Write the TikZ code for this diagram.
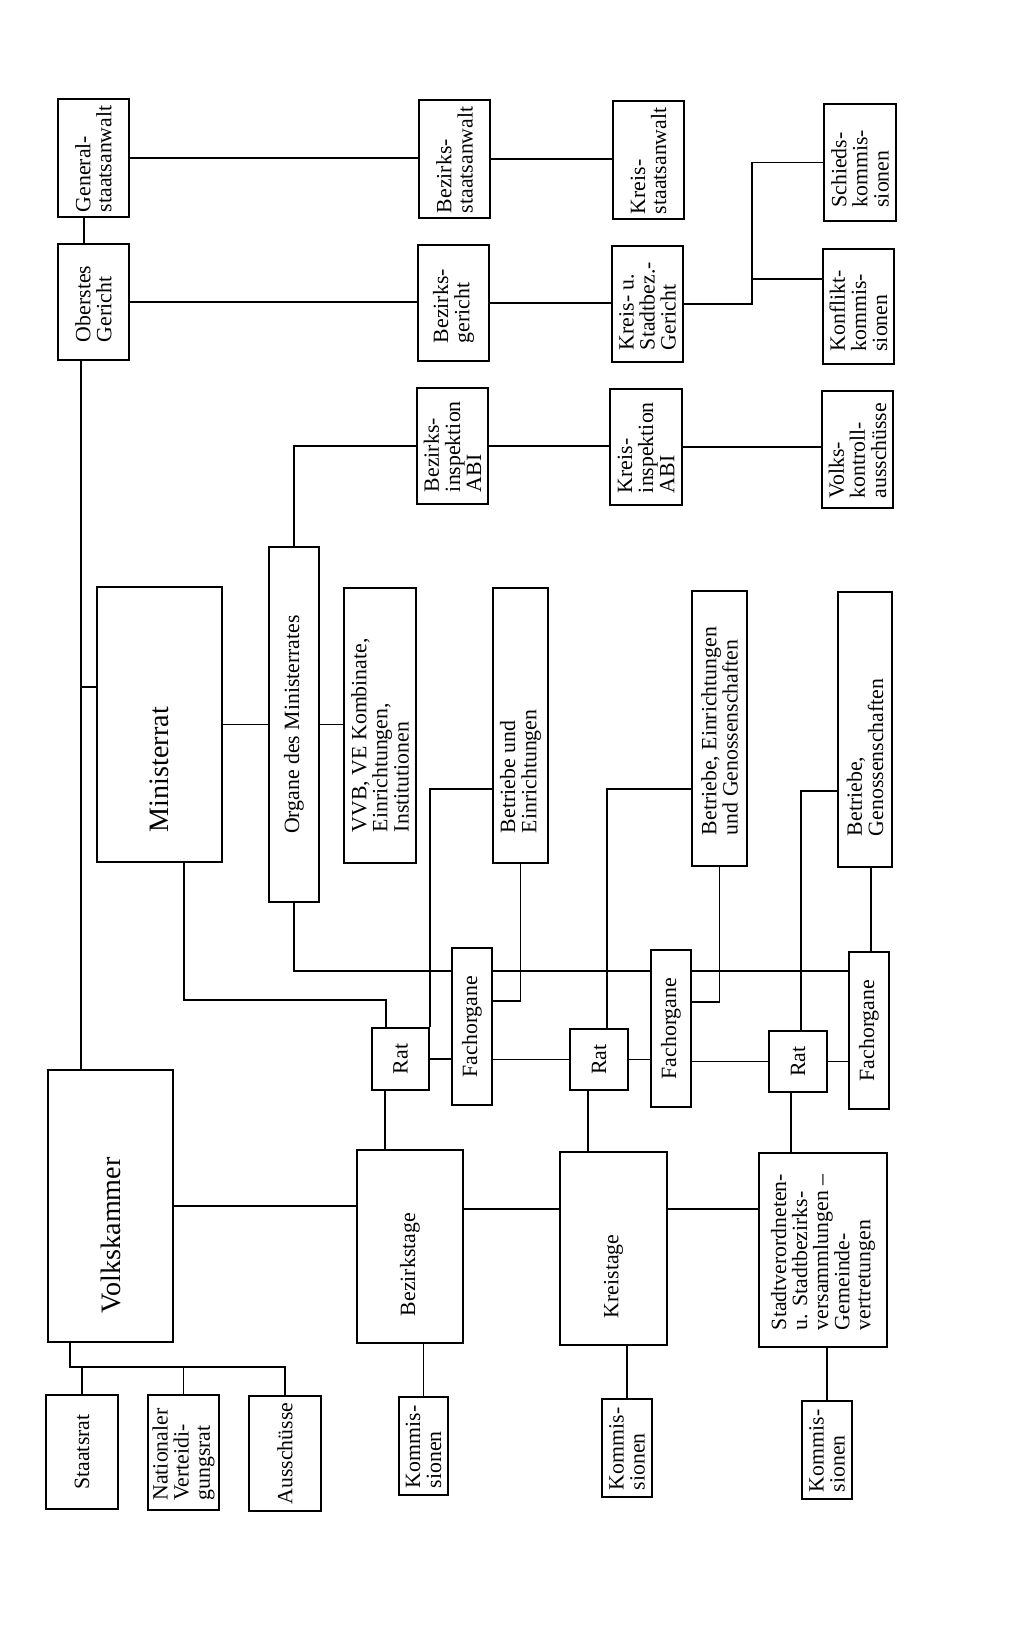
\documentclass[tikz,border=0pt]{standalone}
\usepackage{fontspec}
\setmainfont{Liberation Serif}
\usepackage{graphicx}

\newlength{\bp}\setlength{\bp}{0.25mm}
% senkrecht gesetzter Text, linksbuendig
\newcommand{\hoch}[2]{\rotatebox{90}{\parbox{#1\bp}{\raggedright #2}}}
\newcommand{\quer}[1]{\rotatebox{90}{#1}}

\tikzset{
  kasten/.style 2 args={draw, line width=1.1pt, inner sep=0pt,
    minimum width=#1*0.25mm, minimum height=#2*0.25mm,
    font=\fontsize{15.5}{15}\selectfont},
  gross/.style={font=\fontsize{20}{22}\selectfont},
  linie/.style={line width=1.1pt}
}

\begin{document}
\begin{tikzpicture}[x=0.25mm, y=-0.25mm]
    \useasboundingbox (0,0) rectangle (1024,1648);

    % Justiz und Kontrolle
    \node[kasten={71}{118}] (GS) at (93.5,158) {\hoch{108}{General-\\staatsanwalt}};
    \node[kasten={71}{116}] (OG) at (93.5,302) {\hoch{80}{Oberstes\\Gericht}};
    \node[kasten={71}{118}] (BS) at (454.5,159) {\hoch{108}{Bezirks-\\staatsanwalt}};
    \node[kasten={71}{116}] (BG) at (453.5,303) {\hoch{80}{Bezirks-\\gericht}};
    \node[kasten={71}{116}] (BI) at (452.5,446) {\hoch{92}{Bezirks-\\inspektion\\ABI}};
    \node[kasten={71}{118}] (KS) at (648.5,160) {\hoch{108}{Kreis-\\staatsanwalt}};
    \node[kasten={71}{116}] (KG) at (647.5,304) {\hoch{92}{Kreis- u.\\Stadtbez.-\\Gericht}};
    \node[kasten={72}{116}] (KI) at (646,447) {\hoch{92}{Kreis-\\inspektion\\ABI}};
    \node[kasten={72}{117}] (Schieds) at (860,162.5) {\hoch{90}{Schieds-\\kommis-\\sionen}};
    \node[kasten={71}{115}] (Konflikt) at (858.5,306.5) {\hoch{90}{Konflikt-\\kommis-\\sionen}};
    \node[kasten={71}{117}] (VKA) at (857.5,449.5) {\hoch{98}{Volks-\\kontroll-\\ausschüsse}};

    % Ministerrat und Betriebe
    \node[kasten={125}{275}, gross] (MR) at (159.5,724.5) {\hoch{215}{Ministerrat}};
    \node[kasten={50}{355}] (Organe) at (294,724.5) {\quer{Organe des Ministerrates}};
    \node[kasten={72}{275}] (VVB) at (380,725.5) {\hoch{213}{VVB, VE Kombinate,\\Einrichtungen,\\Institutionen}};
    \node[kasten={55}{275}] (Betr1) at (520.5,725.5) {\hoch{215}{Betriebe und\\Einrichtungen}};
    \node[kasten={55}{275}] (Betr2) at (719.5,728.5) {\hoch{213}{Betriebe, Einrichtungen\\und Genossenschaften}};
    \node[kasten={54}{275}] (Betr3) at (865,729.5) {\hoch{213}{Betriebe,\\Genossenschaften}};

    % Raete und Fachorgane
    \node[kasten={57}{62}] (Rat1) at (400.5,1059) {\quer{Rat}};
    \node[kasten={58}{61}] (Rat2) at (599,1059.5) {\quer{Rat}};
    \node[kasten={58}{61}] (Rat3) at (798,1061.5) {\quer{Rat}};
    \node[kasten={40}{157}] (Fach1) at (472,1026.5) {\quer{Fachorgane}};
    \node[kasten={40}{157}] (Fach2) at (671,1028.5) {\quer{Fachorgane}};
    \node[kasten={40}{157}] (Fach3) at (869,1030.5) {\quer{Fachorgane}};

    % Volksvertretungen
    \node[kasten={125}{272}, gross] (VK) at (110.5,1206) {\hoch{214}{Volkskammer}};
    \node[kasten={106}{193}] (BT) at (410,1246.5) {\hoch{139}{Bezirkstage}};
    \node[kasten={107}{193}] (KT) at (613.5,1248.5) {\hoch{139}{Kreistage}};
    \node[kasten={128}{194}] (SV) at (823,1250) {\hoch{160}{Stadtverordneten-\\u. Stadtbezirks-\\versammlungen –\\Gemeinde-\\vertretungen}};
    \node[kasten={49}{98}] (Komm1) at (423.5,1446) {\hoch{84}{Kommis-\\sionen}};
    \node[kasten={50}{98}] (Komm2) at (627,1448) {\hoch{84}{Kommis-\\sionen}};
    \node[kasten={50}{98}] (Komm3) at (827,1450) {\hoch{84}{Kommis-\\sionen}};
    \node[kasten={72}{114}] (Staatsrat) at (82,1452) {\quer{Staatsrat}};
    \node[kasten={71}{115}] (NVR) at (183.5,1452.5) {\hoch{96}{Nationaler\\Verteidi-\\gungsrat}};
    \node[kasten={72}{115}] (Aus) at (285,1453.5) {\quer{Ausschüsse}};

    % Hilfspunkte fuer die Leitungen
    \coordinate (gsog) at (84,0);
    \coordinate (spine) at (81,0);
    \coordinate (mrstub) at (81,687);
    \coordinate (gfork) at (752,279);
    \coordinate (orgrow) at (0,971);
    \coordinate (mrdrop) at (184,1000);
    \coordinate (ratein) at (386,0);
    \coordinate (betrrow) at (0,789);
    \coordinate (betrrow3) at (0,791);
    \coordinate (rueck1) at (0,1001);
    \coordinate (rueck2) at (0,1002);
    \coordinate (rat2up) at (607,0);
    \coordinate (rat3up) at (801,0);
    \coordinate (fach3up) at (871,0);
    \coordinate (rat1down) at (385,0);
    \coordinate (rat2down) at (588,0);
    \coordinate (rat3down) at (791,0);
    \coordinate (tagrow) at (0,1209);
    \coordinate (vkdrop) at (70,1367);

    % obere Reihen
    \draw[linie] (GS.south -| gsog) -- (OG.north -| gsog);
    \draw[linie] (GS.east) -- (GS.east -| BS.west);
    \draw[linie] (BS.east) -- (BS.east -| KS.west);
    \draw[linie] (OG.east) -- (OG.east -| BG.west);
    \draw[linie] (BG.east) -- (BG.east -| KG.west);
    \draw[linie] (BI.east) -- (BI.east -| KI.west);
    \draw[linie] (KI.east) -- (KI.east -| VKA.west);
    \draw[linie] (KG.east) -| (gfork) |- (Schieds.west);
    \draw[linie] (gfork) -- (gfork -| Konflikt.west);

    % Ministerrat
    \draw[linie] (OG.south -| spine) -- (VK.north -| spine);
    \draw[linie] (mrstub) -- (mrstub -| MR.west);
    \draw[linie] (MR.east) -- (Organe.west);
    \draw[linie] (Organe.east) -- (Organe.east -| VVB.west);
    \draw[linie] (Organe.north) |- (BI.west);
    \draw[linie] (Organe.south) |- (Fach1.west |- orgrow);
    \draw[linie] (Fach1.east |- orgrow) -- (Fach2.west |- orgrow);
    \draw[linie] (Fach2.east |- orgrow) -- (Fach3.west |- orgrow);
    \draw[linie] (MR.south -| mrdrop) -- (mrdrop) -| (Rat1.north -| ratein);

    % Raete, Betriebe, Fachorgane
    \draw[linie] (Rat1.north east) |- (Betr1.west |- betrrow);
    \draw[linie] (Betr1.south) |- (Fach1.east |- rueck1);
    \draw[linie] (Rat2.north -| rat2up) |- (Betr2.west |- betrrow);
    \draw[linie] (Betr2.south) |- (Fach2.east |- rueck2);
    \draw[linie] (Rat3.north -| rat3up) |- (Betr3.west |- betrrow3);
    \draw[linie] (Betr3.south -| fach3up) -- (Fach3.north -| fach3up);
    \draw[linie] (Rat1.east) -- (Rat1.east -| Fach1.west);
    \draw[linie] (Fach1.east |- Rat2.west) -- (Rat2.west);
    \draw[linie] (Rat2.east) -- (Rat2.east -| Fach2.west);
    \draw[linie] (Fach2.east |- Rat3.west) -- (Rat3.west);
    \draw[linie] (Rat3.east) -- (Rat3.east -| Fach3.west);
    \draw[linie] (Rat1.south -| rat1down) -- (BT.north -| rat1down);
    \draw[linie] (Rat2.south -| rat2down) -- (KT.north -| rat2down);
    \draw[linie] (Rat3.south -| rat3down) -- (SV.north -| rat3down);

    % Volksvertretungen
    \draw[linie] (VK.east) -- (VK.east -| BT.west);
    \draw[linie] (BT.east |- tagrow) -- (KT.west |- tagrow);
    \draw[linie] (KT.east |- tagrow) -- (SV.west |- tagrow);
    \draw[linie] (Komm1.north |- BT.south) -- (Komm1.north);
    \draw[linie] (Komm2.north |- KT.south) -- (Komm2.north);
    \draw[linie] (Komm3.north |- SV.south) -- (Komm3.north);
    \draw[linie] (VK.south -| vkdrop) -- (vkdrop) -- (vkdrop -| Aus.north) -- (Aus.north);
    \draw[linie] (Staatsrat.north |- vkdrop) -- (Staatsrat.north);
    \draw[linie] (NVR.north |- vkdrop) -- (NVR.north);
\end{tikzpicture}
\end{document}
